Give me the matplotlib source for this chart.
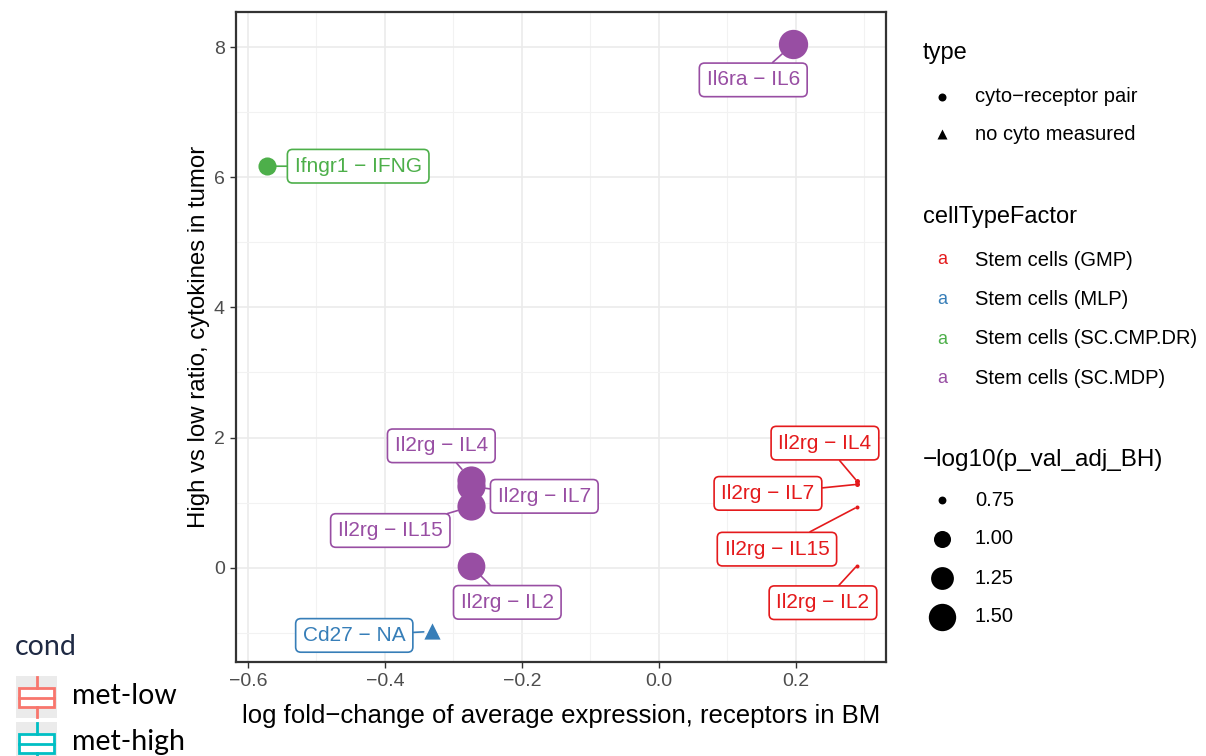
import numpy as np
import matplotlib
matplotlib.use("Agg")
import matplotlib.pyplot as plt
from matplotlib.patches import Rectangle

plt.rcParams['font.family'] = ['Liberation Sans', 'DejaVu Sans']

# values
pair_labels = ["Il6ra − IL6", "Ifngr1 − IFNG", "Il2rg − IL4", "Il2rg − IL7", "Il2rg − IL15",
               "Il2rg − IL2", "Cd27 − NA", "Il2rg − IL4", "Il2rg − IL7", "Il2rg − IL15", "Il2rg − IL2"]
log_fc = [0.196, -0.572, -0.274, -0.274, -0.274, -0.274, -0.331, 0.289, 0.289, 0.289, 0.289]
ratio = [8.05, 6.17, 1.35, 1.25, 0.94, 0.02, -0.98, 1.33, 1.28, 0.93, 0.03]
neg_log_p = [1.62, 1.04, 1.55, 1.55, 1.55, 1.52, 1.00, 0.71, 0.71, 0.70, 0.70]
cell_type = ["SC.MDP", "SC.CMP.DR", "SC.MDP", "SC.MDP", "SC.MDP", "SC.MDP",
             "MLP", "GMP", "GMP", "GMP", "GMP"]
pair_type = ["pair", "pair", "pair", "pair", "pair", "pair", "none", "pair", "pair", "pair", "pair"]

cell_levels = ["GMP", "MLP", "SC.CMP.DR", "SC.MDP"]
type_levels = ["cyto−receptor pair", "no cyto measured"]
size_breaks = [0.75, 1.00, 1.25, 1.50]
cond_levels = ["met-low", "met-high"]

x_ticks = [-0.6, -0.4, -0.2, 0.0, 0.2]
y_ticks = [0, 2, 4, 6, 8]

# layout: label offsets from their point, in pixels
label_offsets = [(-40, -36), (91, 0), (-30, 34), (73, -10), (-81, -24), (36, -36),
                 (-78, -4), (-32, 38), (-89, -9), (-80, -42), (-34, -37)]

palette = {"GMP": "#E41A1C", "MLP": "#377EB8", "SC.CMP.DR": "#4DAF4A", "SC.MDP": "#984EA3"}
cond_colors = ["#F8766D", "#00BFC4"]


def diam_px(v):
    # ggplot-like area scaling of -log10 p
    return np.sqrt(16 + 917 * (v - 0.7))


W, H = 1206, 756
fig = plt.figure(figsize=(W / 100, H / 100), dpi=100)
ax = fig.add_axes([236 / W, 1 - 662 / H, 650 / W, 650 / H])

ax.set_xlim(-0.6175, 0.3314)
ax.set_ylim(-1.45, 8.54)
ax.set_xticks(x_ticks)
ax.set_xticklabels([f"{v:.1f}".replace("-", "−") for v in x_ticks])
ax.set_yticks(y_ticks)
ax.set_yticklabels([str(v) for v in y_ticks])
ax.set_xticks([-0.5, -0.3, -0.1, 0.1, 0.3], minor=True)
ax.set_yticks([-1, 1, 3, 5, 7], minor=True)
ax.grid(which="major", color="#EBEBEB", lw=1.2)
ax.grid(which="minor", color="#F2F2F2", lw=0.8)
ax.set_axisbelow(True)
ax.tick_params(which="major", length=4, width=1, color="#333333", labelcolor="#4D4D4D",
               labelsize=14, pad=4)
ax.tick_params(which="minor", length=0)
for s in ax.spines.values():
    s.set_color("#333333")
    s.set_linewidth(1.6)
ax.set_xlabel("log fold−change of average expression, receptors in BM", fontsize=18.5, labelpad=10)
ax.set_ylabel("High vs low ratio, cytokines in tumor", fontsize=17.3, labelpad=3)

# points
for x, y, v, ct, pt in zip(log_fc, ratio, neg_log_p, cell_type, pair_type):
    d = diam_px(v) * 0.72
    if pt == "pair":
        ax.scatter(x, y, s=d ** 2, color=palette[ct], marker="o", linewidths=0, zorder=3)
    else:
        ax.scatter(x, y, s=(d * 0.95) ** 2, color=palette[ct], marker="^", linewidths=0, zorder=3)

# repelled labels
for lab, x, y, v, ct, off in zip(pair_labels, log_fc, ratio, neg_log_p, cell_type, label_offsets):
    c = palette[ct]
    ax.annotate(lab, xy=(x, y), xytext=off, textcoords="offset pixels",
                ha="center", va="center", fontsize=15, color=c, zorder=4,
                bbox=dict(boxstyle="round,pad=0.35,rounding_size=0.25", fc="white", ec=c, lw=1.2),
                arrowprops=dict(arrowstyle="-", color=c, lw=1.2, shrinkA=0,
                                shrinkB=diam_px(v) * 0.36))

# legends drawn on an overlay in pixel coordinates
lg = fig.add_axes([0, 0, 1, 1])
lg.set_xlim(0, W)
lg.set_ylim(H, 0)
lg.axis("off")
lg.patch.set_alpha(0)

lg.text(923, 53, "type", fontsize=17, va="center", ha="left")
lg.scatter([942], [97], s=(8 * 0.72) ** 2, color="black", marker="o", linewidths=0)
lg.scatter([942], [134], s=(10 * 0.72) ** 2, color="black", marker="^", linewidths=0)
for i, t in enumerate(type_levels):
    lg.text(975, 97 + i * 38, t, fontsize=14.5, va="center", ha="left")

lg.text(923, 217, "cellTypeFactor", fontsize=17, va="center", ha="left")
for i, ct in enumerate(cell_levels):
    yy = 260 + i * 39.5
    lg.text(942, yy, "a", fontsize=13, color=palette[ct], va="center", ha="center")
    lg.text(975, yy, f"Stem cells ({ct})", fontsize=14.5, va="center", ha="left")

lg.text(923, 460, "−log10(p_val_adj_BH)", fontsize=17.5, va="center", ha="left")
for i, v in enumerate(size_breaks):
    yy = 500 + i * 39
    lg.scatter([942], [yy], s=(diam_px(v) * 0.72) ** 2, color="black", marker="o", linewidths=0)
    lg.text(975, yy, f"{v:.2f}", fontsize=14.5, va="center", ha="left")

# cond legend (bottom left)
lg.text(15, 647, "cond", fontsize=20.5, color="#1F2A44", va="center", ha="left", family="Lato")
for i, (lab, col) in enumerate(zip(cond_levels, cond_colors)):
    top = 676 + i * 46
    lg.add_patch(Rectangle((16, top), 41, 42, color="#EBEBEB", lw=0))
    lg.add_patch(Rectangle((19, top + 12), 35, 19, fc="white", ec=col, lw=2))
    lg.plot([19, 54], [top + 21.5, top + 21.5], color=col, lw=2)
    lg.plot([36.5, 36.5], [top + 1, top + 12], color=col, lw=2)
    lg.plot([36.5, 36.5], [top + 31, top + 41], color=col, lw=2)
    lg.text(72, top + 20, lab, fontsize=20.5, color="black", va="center", ha="left", family="Lato")

fig.savefig("out.png", dpi=100)
